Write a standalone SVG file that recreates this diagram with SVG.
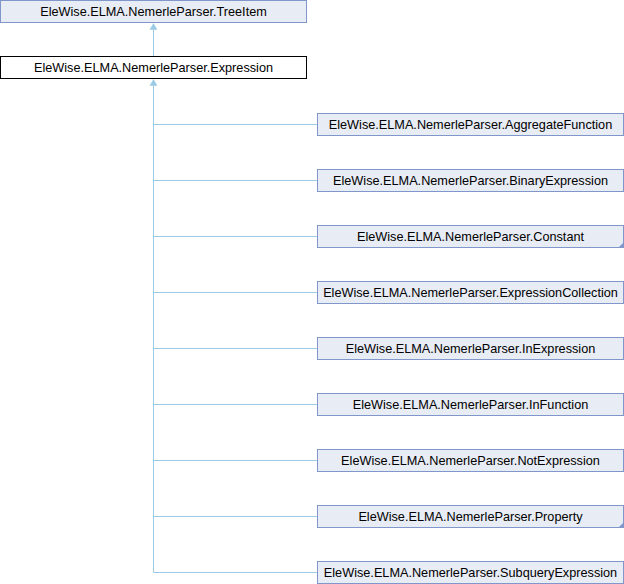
<svg xmlns="http://www.w3.org/2000/svg" width="624" height="584" viewBox="0 0 624 584">
<style>
.n rect{fill:#E8ECF5;stroke:#8197CB;stroke-width:1}
.n.cur rect{fill:#FFFFFF;stroke:#000000}
.n text{font-family:"Liberation Sans",Arial,sans-serif;font-size:12.7px;fill:#000;text-anchor:middle}
.c path{fill:none;stroke:#9BCAE6;stroke-width:1}
.c polygon{fill:#9BCAE6;stroke:#9BCAE6;stroke-width:0.5}
.corner{fill:#8197CB;stroke:none}
</style>
<g class="c" id="connectors">
<path d="M153.5,28 V56"/>
<polygon points="153.5,23.5 157,29.5 150,29.5"/>
<path d="M153.5,84 V572.5 H317"/>
<polygon points="153.5,79.5 157,85.5 150,85.5"/>
<path d="M153.5,124.5 H317"/>
<path d="M153.5,180.5 H317"/>
<path d="M153.5,236.5 H317"/>
<path d="M153.5,292.5 H317"/>
<path d="M153.5,348.5 H317"/>
<path d="M153.5,404.5 H317"/>
<path d="M153.5,460.5 H317"/>
<path d="M153.5,516.5 H317"/>
</g>
<g class="n" id="TreeItem"><rect x="0.5" y="0.5" width="306" height="22"/><text x="153.5" y="16">EleWise.ELMA.NemerleParser.TreeItem</text></g>
<g class="n cur" id="Expression"><rect x="0.5" y="56.5" width="306" height="22"/><text x="153.5" y="72">EleWise.ELMA.NemerleParser.Expression</text></g>
<g class="n" id="AggregateFunction"><rect x="317.5" y="113.5" width="306" height="22"/><text x="470.5" y="129">EleWise.ELMA.NemerleParser.AggregateFunction</text></g>
<g class="n" id="BinaryExpression"><rect x="317.5" y="169.5" width="306" height="22"/><text x="470.5" y="185">EleWise.ELMA.NemerleParser.BinaryExpression</text></g>
<g class="n" id="Constant"><rect x="317.5" y="225.5" width="306" height="22"/><path class="corner" d="M624,242 V248 H618 Z"/><text x="470.5" y="241">EleWise.ELMA.NemerleParser.Constant</text></g>
<g class="n" id="ExpressionCollection"><rect x="317.5" y="281.5" width="306" height="22"/><text x="470.5" y="297">EleWise.ELMA.NemerleParser.ExpressionCollection</text></g>
<g class="n" id="InExpression"><rect x="317.5" y="337.5" width="306" height="22"/><text x="470.5" y="353">EleWise.ELMA.NemerleParser.InExpression</text></g>
<g class="n" id="InFunction"><rect x="317.5" y="393.5" width="306" height="22"/><text x="470.5" y="409">EleWise.ELMA.NemerleParser.InFunction</text></g>
<g class="n" id="NotExpression"><rect x="317.5" y="449.5" width="306" height="22"/><text x="470.5" y="465">EleWise.ELMA.NemerleParser.NotExpression</text></g>
<g class="n" id="Property"><rect x="317.5" y="505.5" width="306" height="22"/><path class="corner" d="M624,522 V528 H618 Z"/><text x="470.5" y="521">EleWise.ELMA.NemerleParser.Property</text></g>
<g class="n" id="SubqueryExpression"><rect x="317.5" y="561.5" width="306" height="22"/><text x="470.5" y="577">EleWise.ELMA.NemerleParser.SubqueryExpression</text></g>
</svg>
